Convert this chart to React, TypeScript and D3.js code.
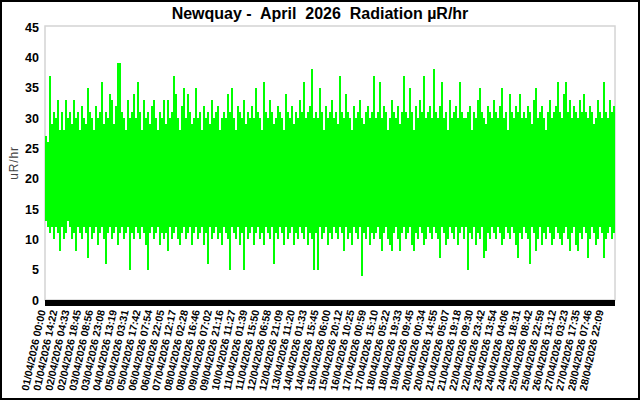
import React from "react";
import * as d3 from "d3";

const TITLE = "Newquay -  April  2026  Radiation µR/hr";
const Y_LABEL = "uR/hr";
const Y_TICKS = [0, 5, 10, 15, 20, 25, 30, 35, 40, 45];

// per-interval maximum reading (µR/hr)
const highs = [
  27, 26, 37, 29, 31, 30, 33, 28, 31, 28, 33, 30, 31, 29, 33,
  30, 31, 28, 32, 30, 29, 35, 31, 30, 28, 32, 30, 31, 36, 29,
  31, 30, 34, 33, 29, 32, 39, 39, 31, 30, 28, 33, 30, 31, 34,
  30, 36, 31, 28, 33, 30, 31, 29, 32, 33, 30, 28, 31, 30, 33,
  29, 33, 30, 31, 37, 34, 30, 28, 32, 35, 30, 34, 31, 29, 30,
  35, 30, 31, 28, 32, 30, 31, 29, 33, 30, 31, 32, 28, 30, 31,
  30, 34, 31, 35, 30, 28, 32, 31, 30, 33, 29, 31, 30, 32, 30,
  35, 31, 30, 28, 36, 31, 30, 33, 31, 29, 30, 32, 31, 30, 28,
  34, 31, 30, 32, 29, 31, 30, 33, 31, 36, 30, 31, 32, 38, 30,
  31, 30, 35, 31, 28, 32, 30, 31, 33, 30, 31, 29, 37, 31, 30,
  34, 31, 30, 28, 32, 30, 31, 33, 30, 29, 31, 32, 30, 31, 37,
  30, 31, 36, 30, 32, 31, 28, 30, 33, 31, 30, 32, 29, 31, 37,
  31, 30, 35, 31, 28, 32, 30, 33, 31, 37, 30, 31, 32, 30, 38,
  31, 30, 32, 36, 30, 31, 28, 33, 30, 31, 32, 30, 36, 31, 30,
  30, 31, 32, 28, 31, 30, 33, 35, 31, 30, 29, 32, 31, 30, 33,
  31, 30, 32, 35, 30, 31, 28, 34, 31, 30, 32, 31, 34, 30, 31,
  30, 32, 31, 29, 33, 35, 30, 31, 32, 30, 28, 31, 33, 30, 31,
  32, 36, 31, 30, 34, 36, 31, 33, 30, 32, 31, 30, 33, 31, 34,
  31, 30, 32, 31, 29, 30, 33, 31, 30, 36, 31, 30, 33, 31, 32,
];

// per-interval minimum reading (µR/hr)
const lows = [
  13, 12, 11, 12, 10, 12, 11, 8, 12, 10, 11, 13, 12, 10, 11,
  8, 12, 11, 10, 12, 11, 7, 12, 10, 11, 12, 9, 11, 12, 10,
  6, 11, 12, 10, 11, 12, 9, 11, 12, 10, 11, 12, 5, 11, 10,
  12, 11, 10, 12, 11, 9, 5, 11, 12, 10, 11, 12, 9, 11, 10,
  11, 8, 12, 10, 11, 12, 10, 9, 11, 12, 10, 11, 12, 9, 11,
  12, 10, 11, 12, 9, 11, 6, 12, 10, 11, 12, 10, 11, 9, 12,
  11, 10, 5, 12, 11, 10, 12, 9, 11, 5, 12, 10, 11, 12, 9,
  11, 12, 10, 11, 9, 12, 11, 10, 12, 6, 11, 10, 12, 11, 9,
  12, 10, 11, 12, 9, 11, 10, 12, 11, 10, 12, 9, 11, 10, 5,
  11, 5, 12, 10, 11, 12, 9, 11, 10, 12, 11, 10, 12, 11, 8,
  12, 10, 11, 9, 12, 11, 10, 12, 4, 11, 10, 12, 9, 11, 10,
  11, 12, 10, 8, 11, 12, 10, 9, 8, 11, 12, 10, 8, 11, 12,
  10, 11, 12, 9, 8, 11, 10, 12, 11, 9, 10, 12, 11, 10, 12,
  11, 10, 7, 12, 11, 9, 10, 12, 11, 10, 12, 9, 11, 12, 10,
  12, 5, 11, 10, 12, 9, 11, 10, 12, 7, 8, 11, 10, 12, 11,
  10, 12, 11, 9, 10, 12, 11, 10, 12, 11, 9, 7, 11, 10, 12,
  11, 10, 6, 12, 11, 8, 10, 12, 9, 11, 10, 12, 11, 9, 10,
  12, 11, 10, 9, 11, 12, 10, 8, 11, 12, 9, 8, 11, 10, 12,
  11, 7, 10, 12, 11, 9, 10, 12, 11, 7, 10, 11, 12, 10, 11,
];

const X_LABELS = [
  "01/04/2026 00:00", "01/04/2026 14:22", "02/04/2026 04:33", "02/04/2026 18:45",
  "03/04/2026 08:56", "03/04/2026 23:08", "04/04/2026 13:19", "05/04/2026 03:31",
  "05/04/2026 17:42", "06/04/2026 07:54", "06/04/2026 22:05", "07/04/2026 12:17",
  "08/04/2026 02:28", "08/04/2026 16:46", "09/04/2026 07:02", "09/04/2026 21:16",
  "10/04/2026 11:27", "11/04/2026 01:39", "11/04/2026 15:50", "12/04/2026 06:58",
  "12/04/2026 21:09", "13/04/2026 11:20", "14/04/2026 01:33", "14/04/2026 15:45",
  "15/04/2026 06:00", "15/04/2026 20:12", "16/04/2026 10:25", "17/04/2026 00:59",
  "17/04/2026 15:10", "18/04/2026 05:22", "18/04/2026 19:33", "19/04/2026 09:45",
  "20/04/2026 00:34", "20/04/2026 14:55", "21/04/2026 05:07", "21/04/2026 19:18",
  "22/04/2026 09:30", "22/04/2026 23:42", "23/04/2026 13:54", "24/04/2026 04:06",
  "24/04/2026 18:31", "25/04/2026 08:42", "25/04/2026 22:59", "26/04/2026 13:12",
  "27/04/2026 03:23", "27/04/2026 17:35", "28/04/2026 07:46", "28/04/2026 22:09",
];

const W = 640;
const H = 400;
const PL = 45;
const PR = 615;
const PT = 26;
const PB = 300;
const FONT = "'Liberation Sans', Arial, sans-serif";

export default function App() {
  const x = d3.scaleLinear().domain([0, highs.length]).range([PL, PR]);
  const y = d3.scaleLinear().domain([0, 45]).range([PB, PT + 1]);
  const xl = d3.scaleLinear().domain([0, X_LABELS.length]).range([PL - 3, PR - 3]);

  return (
    <svg
      width={W}
      height={H}
      style={{ position: "absolute", left: 0, top: 0, background: "#fff" }}
      fontFamily={FONT}
    >
      <rect x={0} y={0} width={W} height={H} fill="#fff" />
      <rect x={PL} y={PT} width={PR - PL} height={PB - PT} fill="#fff" stroke="#d4d4d4" strokeWidth={1.5} />
      <g shapeRendering="crispEdges">
        {highs.map((h, i) => (
          <rect
            key={i}
            x={x(i)}
            width={x(i + 1) - x(i)}
            y={y(h)}
            height={y(lows[i]) - y(h)}
            fill="#00ff00"
          />
        ))}
      </g>
      <rect x={PL} y={PB} width={PR - PL} height={6} fill="#000" />
      {Y_TICKS.map((t) => (
        <text
          key={t}
          x={39}
          y={y(t)}
          dy="0.36em"
          textAnchor="end"
          fontWeight="bold"
          fontSize={12.5}
          fill="#000"
        >
          {t}
        </text>
      ))}
      <text
        transform={`translate(18, ${(PT + PB) / 2}) rotate(-90)`}
        textAnchor="middle"
        fontSize={12}
        letterSpacing={0.8}
        fill="#444"
      >
        {Y_LABEL}
      </text>
      {X_LABELS.map((l, i) => (
        <text
          key={l}
          transform={`translate(${xl(i)}, 310) rotate(-78)`}
          textAnchor="end"
          dy="0.35em"
          fontWeight="bold"
          fontSize={10.5}
          fill="#000"
        >
          {l}
        </text>
      ))}
      <text
        x={320}
        y={19}
        textAnchor="middle"
        fontWeight="bold"
        fontSize={16}
        fill="#000"
        style={{ whiteSpace: "pre" }}
      >
        {TITLE}
      </text>
      <rect x={1} y={1} width={W - 2} height={H - 2} fill="none" stroke="#000" strokeWidth={2} />
    </svg>
  );
}
